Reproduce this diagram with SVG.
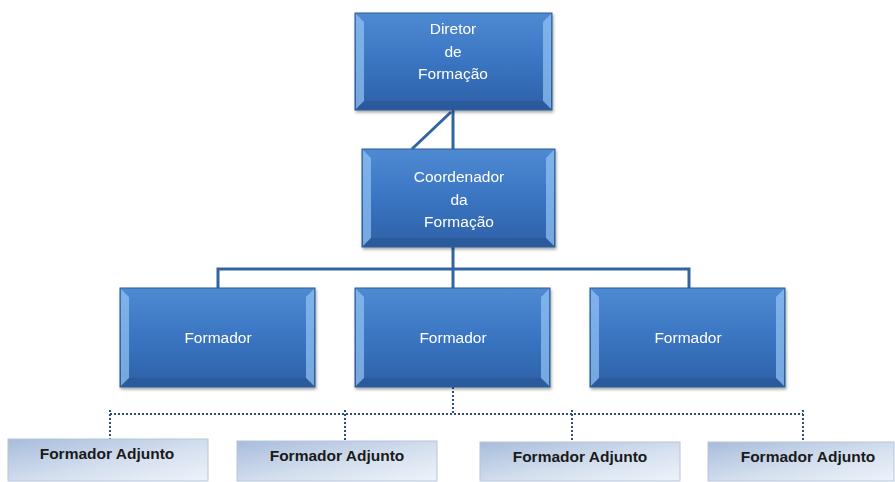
<svg xmlns="http://www.w3.org/2000/svg" width="895" height="482" viewBox="0 0 895 482">
<defs>
<linearGradient id="gBlue" x1="0" y1="0" x2="0" y2="1">
<stop offset="0" stop-color="#4f8ad3"/>
<stop offset="0.5" stop-color="#3a75c2"/>
<stop offset="1" stop-color="#2d60a6"/>
</linearGradient>
<linearGradient id="gAdj" x1="0" y1="0" x2="1" y2="1">
<stop offset="0" stop-color="#a7bcdb"/>
<stop offset="0.55" stop-color="#d4dfee"/>
<stop offset="1" stop-color="#eef3fa"/>
</linearGradient>
<filter id="sh" x="-5%" y="-5%" width="115%" height="120%">
<feDropShadow dx="1" dy="2" stdDeviation="1.5" flood-color="#000" flood-opacity="0.35"/>
</filter>
</defs>
<style>
.box{fill:url(#gBlue);stroke:#2c5a93;stroke-width:1}
.bev{fill:#8fc0f0;opacity:0.75}
.bevd{fill:#23508a;opacity:0.4}
.t{font-family:"Liberation Sans",Arial,sans-serif;font-size:15.5px;fill:#ffffff;text-anchor:middle}
.adj{fill:url(#gAdj);stroke:#b7c6dc;stroke-width:1}
.ta{font-family:"Liberation Sans",Arial,sans-serif;font-size:15.5px;font-weight:bold;fill:#1a1a1a;text-anchor:middle}
.solid{stroke:#32659f;stroke-width:3;fill:none}
.dot{stroke:#2f4e7d;stroke-width:2;fill:none;stroke-dasharray:2 2}
</style>
<g id="connectors">
<line class="solid" x1="453" y1="110" x2="453" y2="149"/>
<line class="solid" x1="451" y1="112" x2="412" y2="149"/>
<line class="solid" x1="453" y1="247" x2="453" y2="288"/>
<polyline class="solid" points="218,288 218,269 689,269 689,288"/>
<line class="dot" x1="453" y1="387" x2="453" y2="414"/>
<line class="dot" x1="110" y1="414" x2="803" y2="414"/>
<line class="dot" x1="110" y1="410" x2="110" y2="439"/>
<line class="dot" x1="345" y1="410" x2="345" y2="441"/>
<line class="dot" x1="572" y1="410" x2="572" y2="442"/>
<line class="dot" x1="803" y1="410" x2="803" y2="442"/>
</g>
<g id="diretor" filter="url(#sh)">
<rect class="box" x="355" y="13" width="197" height="97"/>
<polygon class="bev" points="356,14 364,22 364,101 356,109"/>
<polygon class="bev" points="551,14 543,22 543,101 551,109"/>
<polygon class="bevd" points="356,109 364,101 543,101 551,109"/>
<text class="t" x="453" y="34">Diretor</text>
<text class="t" x="453" y="57">de</text>
<text class="t" x="453" y="79">Formação</text>
</g>
<g id="coordenador" filter="url(#sh)">
<rect class="box" x="362" y="149" width="193" height="98"/>
<polygon class="bev" points="363,150 371,158 371,238 363,246"/>
<polygon class="bev" points="554,150 546,158 546,238 554,246"/>
<polygon class="bevd" points="363,246 371,238 546,238 554,246"/>
<text class="t" x="459" y="182">Coordenador</text>
<text class="t" x="459" y="205">da</text>
<text class="t" x="459" y="227">Formação</text>
</g>
<g id="formador1" filter="url(#sh)">
<rect class="box" x="120" y="288" width="195" height="99"/>
<polygon class="bev" points="121,289 129,297 129,378 121,386"/>
<polygon class="bev" points="314,289 306,297 306,378 314,386"/>
<polygon class="bevd" points="121,386 129,378 306,378 314,386"/>
<text class="t" x="218" y="343">Formador</text>
</g>
<g id="formador2" filter="url(#sh)">
<rect class="box" x="355" y="288" width="195" height="99"/>
<polygon class="bev" points="356,289 364,297 364,378 356,386"/>
<polygon class="bev" points="549,289 541,297 541,378 549,386"/>
<polygon class="bevd" points="356,386 364,378 541,378 549,386"/>
<text class="t" x="453" y="343">Formador</text>
</g>
<g id="formador3" filter="url(#sh)">
<rect class="box" x="590" y="288" width="195" height="99"/>
<polygon class="bev" points="591,289 599,297 599,378 591,386"/>
<polygon class="bev" points="784,289 776,297 776,378 784,386"/>
<polygon class="bevd" points="591,386 599,378 776,378 784,386"/>
<text class="t" x="688" y="343">Formador</text>
</g>
<g id="adjunto1">
<rect class="adj" x="8" y="439" width="200" height="42"/>
<text class="ta" x="107" y="459">Formador Adjunto</text>
</g>
<g id="adjunto2">
<rect class="adj" x="237" y="441" width="200" height="40"/>
<text class="ta" x="337" y="461">Formador Adjunto</text>
</g>
<g id="adjunto3">
<rect class="adj" x="480" y="442" width="200" height="39"/>
<text class="ta" x="580" y="462">Formador Adjunto</text>
</g>
<g id="adjunto4">
<rect class="adj" x="708" y="442" width="186" height="39"/>
<text class="ta" x="808" y="462">Formador Adjunto</text>
</g>
</svg>
